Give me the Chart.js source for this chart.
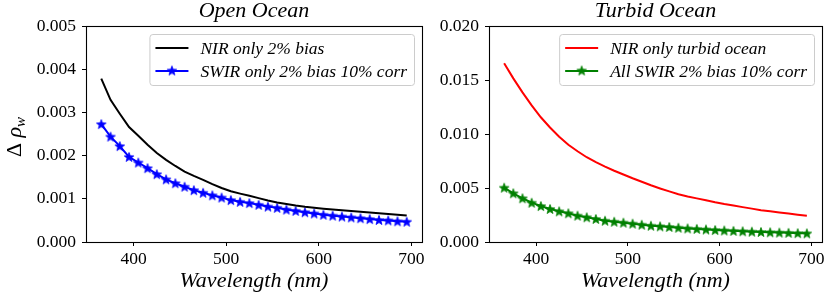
<!DOCTYPE html>
<html><head><meta charset="utf-8">
<script src="https://cdn.jsdelivr.net/npm/chart.js@4/dist/chart.umd.min.js"></script>
<style>
html,body{margin:0;padding:0;background:#fff;}
#wrap{position:relative;width:829px;height:299px;overflow:hidden;background:#fff;}
#c1{position:absolute;left:0;top:0;}
#c2{position:absolute;left:430px;top:0;}
</style></head><body>
<div id="wrap"><canvas id="c1" width="430" height="299"></canvas><canvas id="c2" width="399" height="299"></canvas></div>
<script>
// ---- data ----
const wavelengths = [365,375,385,395,405,415,425,435,445,455,465,475,485,495,505,515,525,535,545,555,565,575,585,595,605,615,625,635,645,655,665,675,685,695];
const nirOpen = [0.00378,0.00329,0.00297,0.00266,0.00246,0.00225,0.00206,0.00190,0.00176,0.00163,0.00153,0.00144,0.00134,0.00125,0.001175,0.00112,0.00107,0.001016,0.00096,0.000914,0.00088,0.000844,0.000816,0.000793,0.000772,0.000753,0.000735,0.000716,0.00070,0.000683,0.000666,0.000647,0.00063,0.000615];
const swirOpen = [0.00273,0.00244,0.00222,0.00197,0.00184,0.00171,0.00157,0.00145,0.00136,0.00128,0.00120,0.00114,0.00108,0.00103,0.00097,0.00093,0.00090,0.00086,0.00082,0.00079,0.00075,0.00072,0.00069,0.00066,0.00063,0.00061,0.00059,0.00057,0.00055,0.00053,0.00051,0.00050,0.00048,0.00047];
const nirTurbid = [0.01655,0.01515,0.01385,0.01265,0.01155,0.0106,0.00975,0.0090,0.0084,0.00785,0.0074,0.00698,0.0066,0.00625,0.0059,0.00558,0.00525,0.00496,0.00469,0.00442,0.00422,0.00404,0.00386,0.00368,0.00352,0.00338,0.00323,0.00309,0.00295,0.00284,0.00273,0.00263,0.00252,0.00242];
const swirTurbid = [0.00503,0.00451,0.00405,0.00364,0.00333,0.00306,0.00284,0.00266,0.00244,0.00229,0.00213,0.00197,0.00188,0.00179,0.00170,0.00160,0.00151,0.00145,0.00139,0.00132,0.00126,0.00121,0.00116,0.00111,0.00107,0.00103,0.00099,0.00096,0.00093,0.00090,0.00087,0.00085,0.00082,0.00080];
const xTicks = [400,500,600,700];
const openYTicks = [0,0.001,0.002,0.003,0.004,0.005];
const turbidYTicks = [0,0.005,0.010,0.015,0.020];
const titles = ['Open Ocean','Turbid Ocean'];
const xTitle = 'Wavelength (nm)';
const openLabels = ['NIR only 2% bias','SWIR only 2% bias 10% corr'];
const turbidLabels = ['NIR only turbid ocean','All SWIR 2% bias 10% corr'];

// ---- helpers ----
const SERIF = '"Liberation Serif","DejaVu Serif",serif';
const starCache = {};
function starImg(color){
  if(starCache[color]) return starCache[color];
  const c=document.createElement('canvas'); c.width=12; c.height=12;
  const g=c.getContext('2d');
  g.beginPath();
  for(let i=0;i<10;i++){
    const r=(i%2)?2.1:5.0; const a=-Math.PI/2+i*Math.PI/5;
    const px=6+r*Math.cos(a), py=6.5+r*Math.sin(a);
    if(i) g.lineTo(px,py); else g.moveTo(px,py);
  }
  g.closePath(); g.fillStyle=color; g.fill(); g.strokeStyle=color; g.lineWidth=0.8; g.stroke();
  starCache[color]=c; return c;
}
const pts = (ys)=>wavelengths.map((x,i)=>({x:x,y:ys[i]}));

const framePlugin = {
  id:'frame',
  afterDatasetsDraw(chart){
    const {ctx, chartArea:a} = chart;
    ctx.save(); ctx.strokeStyle='#000'; ctx.lineWidth=1.1;
    ctx.strokeRect(Math.round(a.left)+0.5, Math.round(a.top)+0.5, Math.round(a.right)-Math.round(a.left), Math.round(a.bottom)-Math.round(a.top));
    ctx.restore();
  }
};
const legendPlugin = {
  id:'boxLegend',
  afterDraw(chart, args, opts){
    if(!opts || !opts.items) return;
    const {ctx, chartArea:a} = chart;
    ctx.save();
    ctx.font = 'italic 17.5px '+SERIF;
    let tw = 0; opts.items.forEach(it=>{tw=Math.max(tw, ctx.measureText(it.label).width);});
    const w = 6+33+12+tw+7, h = 51;
    const x0 = a.right-8-w, y0 = a.top+8;
    ctx.beginPath();
    if(ctx.roundRect) ctx.roundRect(x0+0.5,y0+0.5,w,h,3); else ctx.rect(x0+0.5,y0+0.5,w,h);
    ctx.fillStyle='rgba(255,255,255,0.8)'; ctx.fill();
    ctx.strokeStyle='#cccccc'; ctx.lineWidth=1; ctx.stroke();
    opts.items.forEach((it,i)=>{
      const cy = y0+14+i*23;
      ctx.beginPath(); ctx.moveTo(x0+6,cy); ctx.lineTo(x0+39,cy);
      ctx.strokeStyle=it.color; ctx.lineWidth=2; ctx.stroke();
      if(it.star){ const s=starImg(it.color); ctx.drawImage(s, x0+22.5-6, cy-6.5); }
      ctx.fillStyle='#000'; ctx.textBaseline='middle'; ctx.textAlign='left';
      ctx.fillText(it.label, x0+51, cy+1);
    });
    ctx.restore();
  }
};
const yTitlePlugin = {
  id:'yTitle',
  afterDraw(chart, args, opts){
    if(!opts || !opts.show) return;
    const ctx = chart.ctx;
    ctx.save();
    ctx.translate(21, (chart.chartArea.top+chart.chartArea.bottom)/2+3);
    ctx.rotate(-Math.PI/2);
    ctx.fillStyle='#000'; ctx.textBaseline='alphabetic'; ctx.textAlign='left';
    const f1='22px '+SERIF, f2='italic 22px '+SERIF, f3='italic 15px '+SERIF;
    ctx.font=f1; const wD=ctx.measureText('\u0394 ').width;
    ctx.font=f2; const wR=ctx.measureText('\u03C1').width;
    ctx.font=f3; const wW=ctx.measureText('w').width;
    let x=-(wD+wR+wW)/2;
    ctx.font=f1; ctx.fillText('\u0394 ', x, 0); x+=wD;
    ctx.font=f2; ctx.fillText('\u03C1', x, 0); x+=wR;
    ctx.font=f3; ctx.fillText('w', x, 4);
    ctx.restore();
  }
};

function makeChart(el, cfg){
  return new Chart(el, {
    type:'line',
    data:{datasets:cfg.datasets},
    plugins:[framePlugin, legendPlugin, yTitlePlugin],
    options:{
      responsive:false, animation:false, devicePixelRatio:1,
      layout:{padding:{left:0,right:cfg.padRight,top:0,bottom:0}},
      plugins:{
        legend:{display:false}, tooltip:{enabled:false},
        title:{display:true, text:cfg.title, fullSize:false, color:'#000',
          font:{family:SERIF, size:22, style:'italic', weight:'normal', lineHeight:1.0},
          padding:{top:0.5,bottom:3.5}},
        boxLegend:{items:cfg.legend},
        yTitle:{show:cfg.yTitle}
      },
      scales:{
        x:{type:'linear', min:348.5, max:711.5,
          afterBuildTicks:(s)=>{s.ticks=xTicks.map(v=>({value:v}));},
          afterFit:(s)=>{s.height=57;},
          grid:{display:true, drawOnChartArea:false, drawTicks:true, tickLength:4, color:'#000', lineWidth:1},
          border:{display:false},
          ticks:{color:'#000', padding:3, maxRotation:0, font:{family:SERIF,size:17.5}, callback:(v)=>String(v)},
          title:{display:true, text:xTitle, color:'#000', font:{family:SERIF,size:22,style:'italic'}, padding:{top:0,bottom:5}}
        },
        y:{type:'linear', min:0, max:cfg.yMax,
          afterBuildTicks:(s)=>{s.ticks=cfg.yTicks.map(v=>({value:v}));},
          afterFit:(s)=>{s.width=cfg.yWidth;},
          grid:{display:true, drawOnChartArea:false, drawTicks:true, tickLength:4, color:'#000', lineWidth:1},
          border:{display:false},
          ticks:{color:'#000', padding:6, font:{family:SERIF,size:17.5}, callback:(v)=>Number(v).toFixed(3)}
        }
      }
    }
  });
}

makeChart(document.getElementById('c1'), {
  title:titles[0], yMax:0.005, yTicks:openYTicks, yWidth:86, padRight:8, yTitle:true,
  legend:[{label:openLabels[0],color:'#000000',star:false},{label:openLabels[1],color:'#0000ff',star:true}],
  datasets:[
    {label:openLabels[0], data:pts(nirOpen), borderColor:'#000000', borderWidth:2, pointRadius:0, tension:0, fill:false},
    {label:openLabels[1], data:pts(swirOpen), borderColor:'#0000ff', borderWidth:2, pointStyle:starImg('#0000ff'), pointRadius:5, tension:0, fill:false}
  ]
});
makeChart(document.getElementById('c2'), {
  title:titles[1], yMax:0.020, yTicks:turbidYTicks, yWidth:59, padRight:5, yTitle:false,
  legend:[{label:turbidLabels[0],color:'#ff0000',star:false},{label:turbidLabels[1],color:'#008000',star:true}],
  datasets:[
    {label:turbidLabels[0], data:pts(nirTurbid), borderColor:'#ff0000', borderWidth:2, pointRadius:0, tension:0, fill:false},
    {label:turbidLabels[1], data:pts(swirTurbid), borderColor:'#008000', borderWidth:2, pointStyle:starImg('#008000'), pointRadius:5, tension:0, fill:false}
  ]
});
</script>
</body></html>
